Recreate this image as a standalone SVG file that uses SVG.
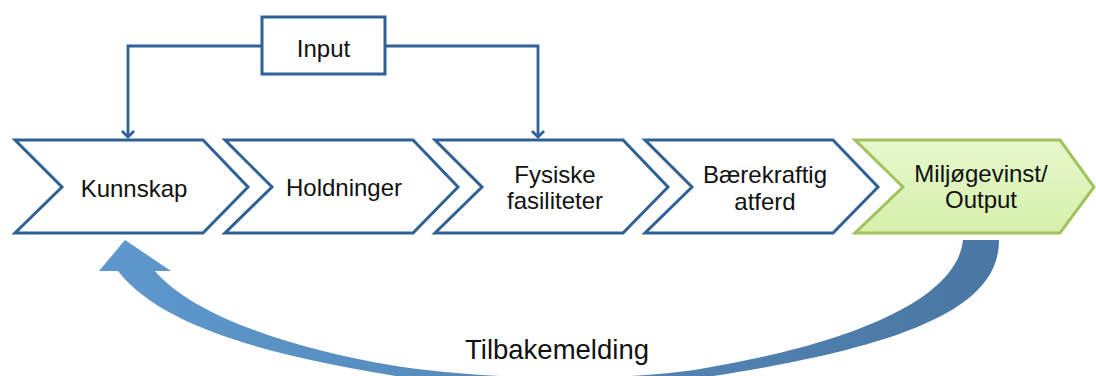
<svg xmlns="http://www.w3.org/2000/svg" width="1096" height="376" viewBox="0 0 1096 376">
  <style>
    .chev { fill: #ffffff; stroke: #2f6196; stroke-width: 3; stroke-linejoin: miter; }
    .chev-green { fill: url(#greenFill); stroke: #a0c35f; stroke-width: 3; stroke-linejoin: miter; }
    .box { fill: #ffffff; stroke: #2f6196; stroke-width: 3; }
    .wire { fill: none; stroke: #2f6196; stroke-width: 2.8; }
    .label { font-family: "Liberation Sans", Arial, sans-serif; font-size: 24px; fill: #111111; text-anchor: middle; }
    .big { font-size: 27.5px; }
  </style>
  <defs>
    <linearGradient id="greenFill" x1="0" y1="0" x2="0" y2="1">
      <stop offset="0" stop-color="#e6f8cc"/>
      <stop offset="1" stop-color="#d6f0ab"/>
    </linearGradient>
    <linearGradient id="loopFill" x1="100" y1="0" x2="1000" y2="0" gradientUnits="userSpaceOnUse">
      <stop offset="0" stop-color="#5e98cd"/>
      <stop offset="1" stop-color="#4a77a3"/>
    </linearGradient>
    <marker id="openArrow" markerWidth="14" markerHeight="14" refX="7" refY="7" orient="auto" markerUnits="userSpaceOnUse">
      <path d="M1,1 L7,7 L1,13" fill="none" stroke="#2f6196" stroke-width="2.8"/>
    </marker>
  </defs>

  <!-- connectors -->
  <g id="connectors">
    <path class="wire" d="M262,46 H128 V137" marker-end="url(#openArrow)"/>
    <path class="wire" d="M385,46 H538 V137" marker-end="url(#openArrow)"/>
    <!-- feedback loop arrow -->
    <path id="feedback" fill="url(#loopFill)" d="M963,240 L999,240 C999,300 930,344 700,378 C640,388 470,390 390,375 C290,358 165,332 118,271 L99,271 L125,240 L171,271 L155,271 C195,318 300,350 390,365 C480,380 620,382 700,369 C850,344 957,300 963,240 Z"/>
  </g>

  <g id="input">
    <rect class="box" x="262" y="17" width="123" height="57"/>
    <text class="label" x="323.5" y="57">Input</text>
  </g>

  <g id="kunnskap">
    <polygon class="chev" points="15,140 203,140 248,187 203,233 15,233 62,187"/>
    <text class="label" x="134" y="197">Kunnskap</text>
  </g>

  <g id="holdninger">
    <polygon class="chev" points="225,140 413,140 458,187 413,233 225,233 272,187"/>
    <text class="label" x="344" y="196">Holdninger</text>
  </g>

  <g id="fysiske">
    <polygon class="chev" points="435,140 623,140 668,187 623,233 435,233 482,187"/>
    <text class="label" x="555" y="183">Fysiske</text>
    <text class="label" x="555" y="209">fasiliteter</text>
  </g>

  <g id="baerekraftig">
    <polygon class="chev" points="645,140 833,140 878,187 833,233 645,233 692,187"/>
    <text class="label" x="765" y="183">Bærekraftig</text>
    <text class="label" x="765" y="210">atferd</text>
  </g>

  <g id="miljogevinst">
    <polygon class="chev-green" points="855,140 1060,140 1094,187 1060,233 855,233 903,187"/>
    <text class="label" x="981" y="182">Miljøgevinst/</text>
    <text class="label" x="981" y="208">Output</text>
  </g>

  <g id="tilbakemelding">
    <text class="label big" x="557" y="359">Tilbakemelding</text>
  </g>
</svg>
